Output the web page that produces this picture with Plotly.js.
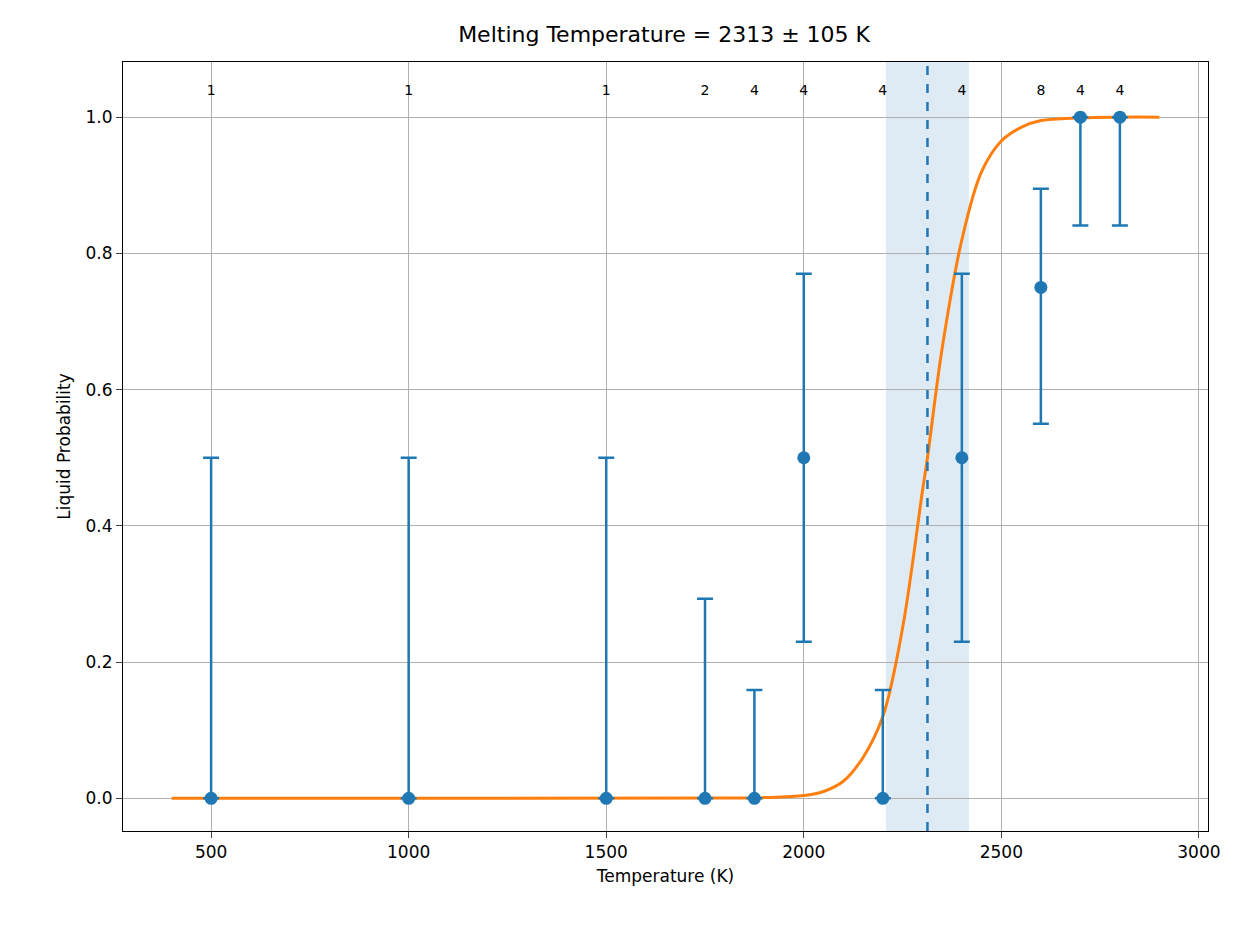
<!DOCTYPE html>
<html><head><script src="https://cdn.plot.ly/plotly-3.0.1.min.js"></script>
<style>body{margin:0;background:#fff}</style></head><body>
<div id="c" style="width:1253px;height:939px"></div>
<script>
const temps=[500,1000,1500,1750,1875,2000,2200,2400,2600,2700,2800];
const prob=[0,0,0,0,0,0.5,0,0.5,0.75,1,1];
const upper=[0.5,0.5,0.5,0.293,0.159,0.77,0.159,0.77,0.895,1,1];
const lower=[0,0,0,0,0,0.23,0,0.23,0.55,0.841,0.841];
const counts=[1,1,1,2,4,4,4,4,8,4,4];
const fitX=[400,1800,1900,2000,2050,2100,2150,2200,2250,2300,2313,2350,2400,2450,2500,2550,2600,2700,2800,2900];
const fitY=[0,0.0003,0.001,0.004,0.01,0.025,0.06,0.12,0.25,0.45,0.5,0.66,0.82,0.92,0.965,0.985,0.995,0.999,1,1];
const tm=2313, tmErr=105;
const errPlus=upper.map((u,i)=>u-prob[i]);
const errMinus=prob.map((p,i)=>p-lower[i]);
const blue='#1f77b4', orange='#ff7f0e';
const data=[
{x:fitX,y:fitY,mode:'lines',line:{color:orange,width:3,shape:'spline'},hoverinfo:'skip'},
{x:temps,y:prob,mode:'markers',marker:{color:blue,size:13},
 error_y:{type:'data',symmetric:false,array:errPlus,arrayminus:errMinus,color:blue,thickness:2.5,width:8}},
{x:temps,y:temps.map(()=>1.038),mode:'text',text:counts.map(String),textfont:{size:14,color:'#000',family:'DejaVu Sans'}}
];
const layout={
width:1253,height:939,showlegend:false,paper_bgcolor:'#fff',plot_bgcolor:'#fff',
margin:{l:123,r:45,t:62,b:108},
font:{family:'DejaVu Sans',size:17,color:'#000'},
title:{text:'Melting Temperature = '+tm+' ± '+tmErr+' K',font:{size:22},x:0.53,y:0.972},
xaxis:{range:[277,3023],tickvals:[500,1000,1500,2000,2500,3000],showgrid:true,gridcolor:'#b0b0b0',zeroline:false,
 showline:true,mirror:true,linecolor:'#000',ticks:'outside',ticklen:6,title:{text:'Temperature (K)',font:{size:17},standoff:8}},
yaxis:{range:[-0.048,1.081],tickvals:[0,0.2,0.4,0.6,0.8,1],ticktext:['0.0','0.2','0.4','0.6','0.8','1.0'],showgrid:true,gridcolor:'#b0b0b0',zeroline:false,
 showline:true,mirror:true,linecolor:'#000',ticks:'outside',ticklen:6,title:{text:'Liquid Probability',font:{size:17},standoff:10}},
shapes:[
{type:'rect',xref:'x',yref:'paper',x0:tm-tmErr,x1:tm+tmErr,y0:0,y1:1,fillcolor:'rgba(31,119,180,0.15)',line:{width:0},layer:'below'},
{type:'line',xref:'x',yref:'paper',x0:tm,x1:tm,y0:0,y1:1,line:{color:blue,width:2.5,dash:'dash'}}
]};
Plotly.newPlot('c',data,layout,{displayModeBar:false});
</script></body></html>
